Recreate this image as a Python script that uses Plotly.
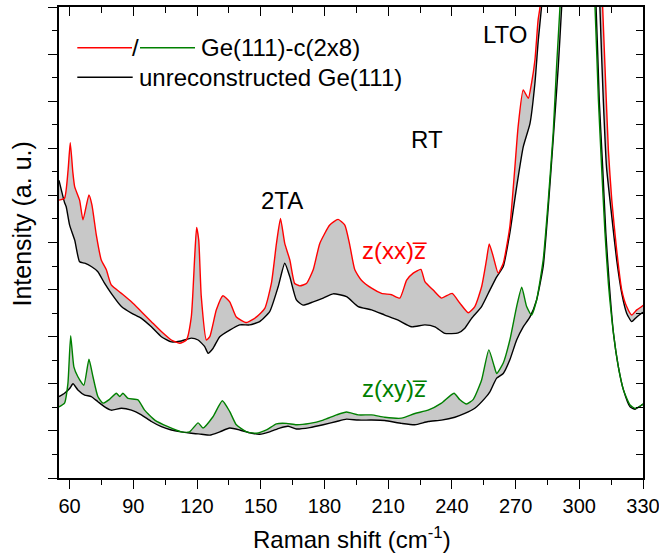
import plotly.graph_objects as go

# ---------------- data (Raman shift in cm^-1, intensity in a.u.) ----------------
# z(xx)z  Ge(111)-c(2x8)  (red)
xx_rec = [(55.0, 5.90), (57.6, 5.94), (59.3, 6.55), (60.3, 7.12), (61.5, 6.50), (62.4, 6.18),
          (64.7, 5.90), (66.3, 5.48), (69.1, 6.01), (70.5, 5.80), (72.6, 5.15), (74.9, 4.63),
          (77.3, 4.42), (79.6, 4.10), (84.4, 3.92), (89.1, 3.74), (93.8, 3.53), (98.5, 3.32),
          (103.2, 3.11), (107.9, 2.93), (111.8, 2.86), (115.0, 2.93), (117.3, 3.42), (118.9, 4.70),
          (119.8, 5.32), (120.8, 5.05), (122.0, 3.85), (124.4, 2.93), (126.0, 3.00), (129.1, 3.57),
          (132.2, 3.87), (135.4, 3.74), (138.5, 3.42), (143.3, 3.30), (148.0, 3.42), (151.9, 3.60),
          (155.0, 4.13), (157.4, 4.98), (159.3, 5.51), (161.3, 4.98), (163.7, 4.63), (166.0, 4.13),
          (168.4, 4.08), (171.5, 4.13), (174.7, 4.42), (177.8, 4.98), (182.5, 5.37), (186.4, 5.49),
          (189.6, 5.37), (191.9, 4.95), (194.3, 4.42), (197.4, 4.20), (202.2, 4.03), (206.9, 3.92),
          (211.6, 3.89), (215.5, 3.82), (218.7, 4.20), (221.8, 4.35), (225.4, 4.43), (227.3, 4.17),
          (231.2, 3.99), (235.1, 3.82), (240.1, 3.92), (243.8, 3.71), (247.7, 3.51), (250.8, 3.64),
          (254.0, 4.06), (256.3, 4.63), (257.6, 4.97), (259.5, 4.70), (261.8, 4.35), (264.2, 4.56),
          (267.3, 5.34), (269.7, 6.61), (271.2, 7.46), (273.6, 8.24), (276.0, 8.06), (277.5, 8.38),
          (279.1, 8.87), (280.6, 9.72), (281.5, 10.0), (284.0, 12.0), (290.0, 18.0), (300.0, 35.0),
          (306.0, 20.0), (310.0, 11.5), (311.0, 10.0), (312.1, 8.73), (313.7, 6.96), (315.3, 5.90),
          (317.6, 4.84), (320.0, 3.99), (322.3, 3.64), (324.7, 3.46), (327.1, 3.57), (329.4, 3.64),
          (330.0, 3.67)]

# z(xx)z  unreconstructed Ge(111)  (black, upper)
xx_unrec = [(55.0, 6.32), (57.6, 5.85), (58.4, 5.76), (60.0, 5.37), (62.4, 5.05), (64.7, 4.59),
            (67.1, 4.56), (70.2, 4.49), (73.3, 4.38), (76.5, 4.13), (79.6, 3.92), (84.4, 3.64),
            (89.1, 3.50), (93.8, 3.39), (98.5, 3.21), (103.2, 3.00), (107.9, 2.89), (112.6, 2.91),
            (117.3, 2.97), (120.5, 2.93), (123.6, 2.79), (125.2, 2.65), (127.5, 2.75), (130.7, 3.00),
            (135.4, 3.14), (140.1, 3.25), (144.8, 3.25), (149.5, 3.32), (154.2, 3.53), (158.2, 4.06),
            (161.3, 4.56), (163.7, 4.27), (166.8, 3.78), (169.9, 3.67), (174.7, 3.74), (179.4, 3.82),
            (184.1, 3.91), (190.4, 3.85), (195.9, 3.64), (202.2, 3.57), (208.4, 3.46), (214.7, 3.35),
            (221.0, 3.21), (227.3, 3.25), (232.0, 3.21), (236.7, 3.07), (243.0, 3.08), (246.1, 3.18),
            (249.3, 3.39), (254.0, 3.64), (257.9, 3.99), (261.1, 4.27), (264.2, 4.49), (267.3, 5.20),
            (270.5, 6.18), (273.6, 7.03), (276.8, 7.53), (279.1, 8.38), (280.7, 9.30), (282.2, 10.0),
            (284.0, 11.5), (292.0, 18.0), (300.0, 35.0), (305.0, 20.0), (309.0, 11.5), (309.7, 10.0),
            (311.3, 8.03), (312.8, 6.61), (315.3, 5.55), (317.6, 4.63), (320.0, 3.92), (322.3, 3.50),
            (324.7, 3.32), (327.1, 3.42), (329.4, 3.50), (330.0, 3.52)]

# z(xy)z  Ge(111)-c(2x8)  (green)
xy_rec = [(55.0, 1.51), (57.6, 1.59), (59.2, 2.01), (60.5, 3.02), (62.0, 2.36), (63.9, 2.15),
          (66.7, 1.97), (69.1, 2.52), (71.0, 2.15), (73.3, 1.73), (75.7, 1.59), (78.8, 1.67),
          (82.0, 1.80), (83.6, 1.73), (85.1, 1.80), (87.5, 1.69), (92.2, 1.66), (95.3, 1.44),
          (100.1, 1.23), (106.3, 1.09), (112.6, 0.98), (116.5, 0.98), (120.5, 1.17), (122.8, 1.06),
          (127.5, 1.30), (131.9, 1.64), (135.4, 1.41), (138.5, 1.13), (143.3, 0.98), (148.0, 0.95),
          (152.7, 1.02), (157.4, 1.15), (162.1, 1.16), (166.8, 1.13), (173.1, 1.16), (179.4, 1.23),
          (185.7, 1.34), (190.4, 1.40), (195.9, 1.34), (202.2, 1.34), (208.4, 1.29), (216.3, 1.27),
          (222.6, 1.37), (228.8, 1.44), (235.1, 1.59), (241.0, 1.80), (243.8, 1.66), (246.9, 1.57),
          (250.1, 1.67), (254.0, 2.08), (257.4, 2.72), (260.0, 2.36), (261.1, 2.22), (264.2, 2.44),
          (267.3, 2.93), (270.5, 3.64), (272.9, 4.05), (275.2, 3.64), (277.5, 3.46), (279.9, 3.78),
          (283.0, 4.63), (285.4, 5.90), (287.7, 7.32), (289.3, 8.73), (290.9, 10.0), (293.0, 12.0),
          (300.0, 35.0), (305.0, 12.0), (307.4, 10.0), (309.0, 8.03), (310.5, 6.61), (312.1, 5.20),
          (313.7, 4.13), (316.1, 3.07), (318.4, 2.36), (320.8, 1.87), (323.9, 1.55), (326.3, 1.48),
          (329.4, 1.55), (330.0, 1.57)]

# z(xy)z  unreconstructed Ge(111)  (black, lower)
xy_unrec = [(55.0, 1.73), (57.6, 1.80), (60.0, 1.90), (61.6, 2.00), (63.9, 1.87), (67.1, 1.76),
            (70.2, 1.73), (73.3, 1.62), (76.5, 1.51), (79.6, 1.44), (84.4, 1.48), (89.1, 1.44),
            (93.8, 1.34), (98.5, 1.20), (103.2, 1.09), (107.9, 1.02), (112.6, 0.98), (117.3, 0.95),
            (122.0, 0.93), (126.0, 0.91), (130.7, 0.98), (135.4, 1.06), (140.1, 1.02), (144.8, 0.96),
            (149.5, 0.93), (154.2, 0.98), (158.9, 1.06), (162.9, 1.10), (166.8, 1.04), (173.1, 1.07),
            (179.4, 1.13), (185.7, 1.20), (190.4, 1.25), (195.9, 1.23), (202.2, 1.23), (208.4, 1.22),
            (216.3, 1.16), (222.6, 1.13), (228.8, 1.20), (235.1, 1.23), (241.4, 1.29), (246.1, 1.37),
            (250.8, 1.48), (255.5, 1.69), (257.9, 1.83), (261.1, 2.12), (264.2, 2.22), (267.3, 2.51),
            (270.5, 2.93), (273.6, 3.21), (276.8, 3.42), (279.9, 3.78), (283.0, 4.49), (285.4, 5.76),
            (287.7, 7.18), (290.1, 8.73), (291.7, 10.0), (294.0, 12.0), (300.0, 35.0), (305.0, 12.0),
            (307.9, 10.0), (309.4, 8.03), (311.0, 6.61), (312.5, 5.20), (314.1, 4.13), (316.1, 3.07),
            (318.4, 2.36), (320.8, 1.87), (323.9, 1.51), (326.3, 1.46), (329.4, 1.55), (330.0, 1.57)]

x_ticks = [60, 90, 120, 150, 180, 210, 240, 270, 300, 330]
x_range = [55, 330]
y_range = [0, 10]

labels = [  # (text, x, y, color)
    ("LTO", 265.0, 9.41, "black"),
    ("RT", 228.2, 7.18, "black"),
    ("2TA", 159.9, 5.90, "black"),
    ("z(xx)z\u0305", 213.1, 4.84, "#ff0000"),
    ("z(xy)z\u0305", 213.1, 1.91, "#008000"),
]

RED, GREEN, BLACK, GRAY = "#ff0000", "#008000", "#000000", "#c8c8c8"
FONT = "Liberation Sans, Arial, sans-serif"

# ---------------- figure ----------------
W, H = 659, 555
L, R, T, B = 59, 16, 7, 77
PW, PH = W - L - R, H - T - B


def px(xp):
    return (xp - L) / PW


def py(yp):
    return (H - B - yp) / PH


def split(pts):
    return [p[0] for p in pts], [p[1] for p in pts]


SMOOTH = 0.5
fig = go.Figure()

for sample, ref in [(xx_rec, xx_unrec), (xy_rec, xy_unrec)]:
    sx, sy = split(sample)
    rx, ry = split(ref)
    fig.add_trace(go.Scatter(x=rx + sx[::-1], y=ry + sy[::-1], fill="toself",
                             fillcolor=GRAY, mode="lines",
                             line=dict(width=0, shape="spline", smoothing=SMOOTH),
                             hoverinfo="skip", showlegend=False))

for pts, col in [(xx_unrec, BLACK), (xy_unrec, BLACK), (xx_rec, RED), (xy_rec, GREEN)]:
    x, y = split(pts)
    fig.add_trace(go.Scatter(x=x, y=y, mode="lines",
                             line=dict(color=col, width=1.4, shape="spline", smoothing=SMOOTH),
                             showlegend=False))

# invisible trace to activate top/right axes
fig.add_trace(go.Scatter(x=[x_range[0]], y=[y_range[0]], xaxis="x2", yaxis="y2",
                         mode="markers", marker=dict(opacity=0), showlegend=False,
                         hoverinfo="skip"))

axis_common = dict(showgrid=False, zeroline=False, showline=True, linecolor="black",
                   linewidth=1.5, tickcolor="black", tickwidth=1.3, automargin=False)

fig.update_layout(
    width=W, height=H,
    margin=dict(l=L, r=R, t=T, b=B, autoexpand=False),
    paper_bgcolor="white", plot_bgcolor="white",
    font=dict(family=FONT, color="black"),
    xaxis=dict(range=x_range, tickvals=x_ticks, ticks="outside", ticklen=9,
               tickfont=dict(size=20, family=FONT), ticklabeloverflow="allow",
               minor=dict(dtick=15, tick0=60, ticks="outside", ticklen=5,
                          tickcolor="black", tickwidth=1.3),
               **axis_common),
    xaxis2=dict(range=x_range, overlaying="x", side="top", tick0=60, dtick=30,
                ticks="inside", ticklen=9, showticklabels=False,
                minor=dict(dtick=15, tick0=60, ticks="inside", ticklen=6,
                           tickcolor="black", tickwidth=1.3),
                **axis_common),
    yaxis=dict(range=y_range, tick0=0, dtick=1, ticks="outside", ticklen=9,
               showticklabels=False,
               minor=dict(dtick=0.5, tick0=0, ticks="outside", ticklen=5,
                          tickcolor="black", tickwidth=1.3),
               **axis_common),
    yaxis2=dict(range=y_range, overlaying="y", side="right", tick0=0, dtick=0.5,
                ticks="inside", ticklen=7, showticklabels=False, **axis_common),
)

# axis titles
fig.add_annotation(text="Raman shift (cm<sup>-1</sup>)", xref="paper", yref="paper",
                   x=px(352), y=py(538), showarrow=False, font=dict(size=24, family=FONT),
                   xanchor="center", yanchor="middle")
fig.add_annotation(text="Intensity (a. u.)", xref="paper", yref="paper",
                   x=px(21.5), y=py(224), showarrow=False, textangle=-90,
                   font=dict(size=25, family=FONT), xanchor="center", yanchor="middle")

# in-plot labels
for txt, lx, ly, col in labels:
    fig.add_annotation(text=txt, x=lx, y=ly, xref="x", yref="y", showarrow=False,
                       font=dict(size=24, color=col, family=FONT),
                       xanchor="center", yanchor="middle")

# custom legend
leg_rows = [py(47.7), py(77.3)]
fig.add_shape(type="line", xref="paper", yref="paper", x0=px(77.3), x1=px(132.0),
              y0=leg_rows[0], y1=leg_rows[0], line=dict(color=RED, width=1.4))
fig.add_shape(type="line", xref="paper", yref="paper", x0=px(140.0), x1=px(195.0),
              y0=leg_rows[0], y1=leg_rows[0], line=dict(color=GREEN, width=1.4))
fig.add_shape(type="line", xref="paper", yref="paper", x0=px(77.3), x1=px(132.7),
              y0=leg_rows[1], y1=leg_rows[1], line=dict(color=BLACK, width=1.4))
fig.add_annotation(text="/", xref="paper", yref="paper", x=px(135.5), y=leg_rows[0],
                   showarrow=False, font=dict(size=24, family=FONT),
                   xanchor="center", yanchor="middle")
fig.add_annotation(text="Ge(111)-c(2x8)", xref="paper", yref="paper", x=px(199),
                   y=leg_rows[0], showarrow=False, font=dict(size=24, family=FONT),
                   xanchor="left", yanchor="middle")
fig.add_annotation(text="unreconstructed Ge(111)", xref="paper", yref="paper", x=px(137),
                   y=leg_rows[1], showarrow=False, font=dict(size=24, family=FONT),
                   xanchor="left", yanchor="middle")

fig.write_html("out.html")
